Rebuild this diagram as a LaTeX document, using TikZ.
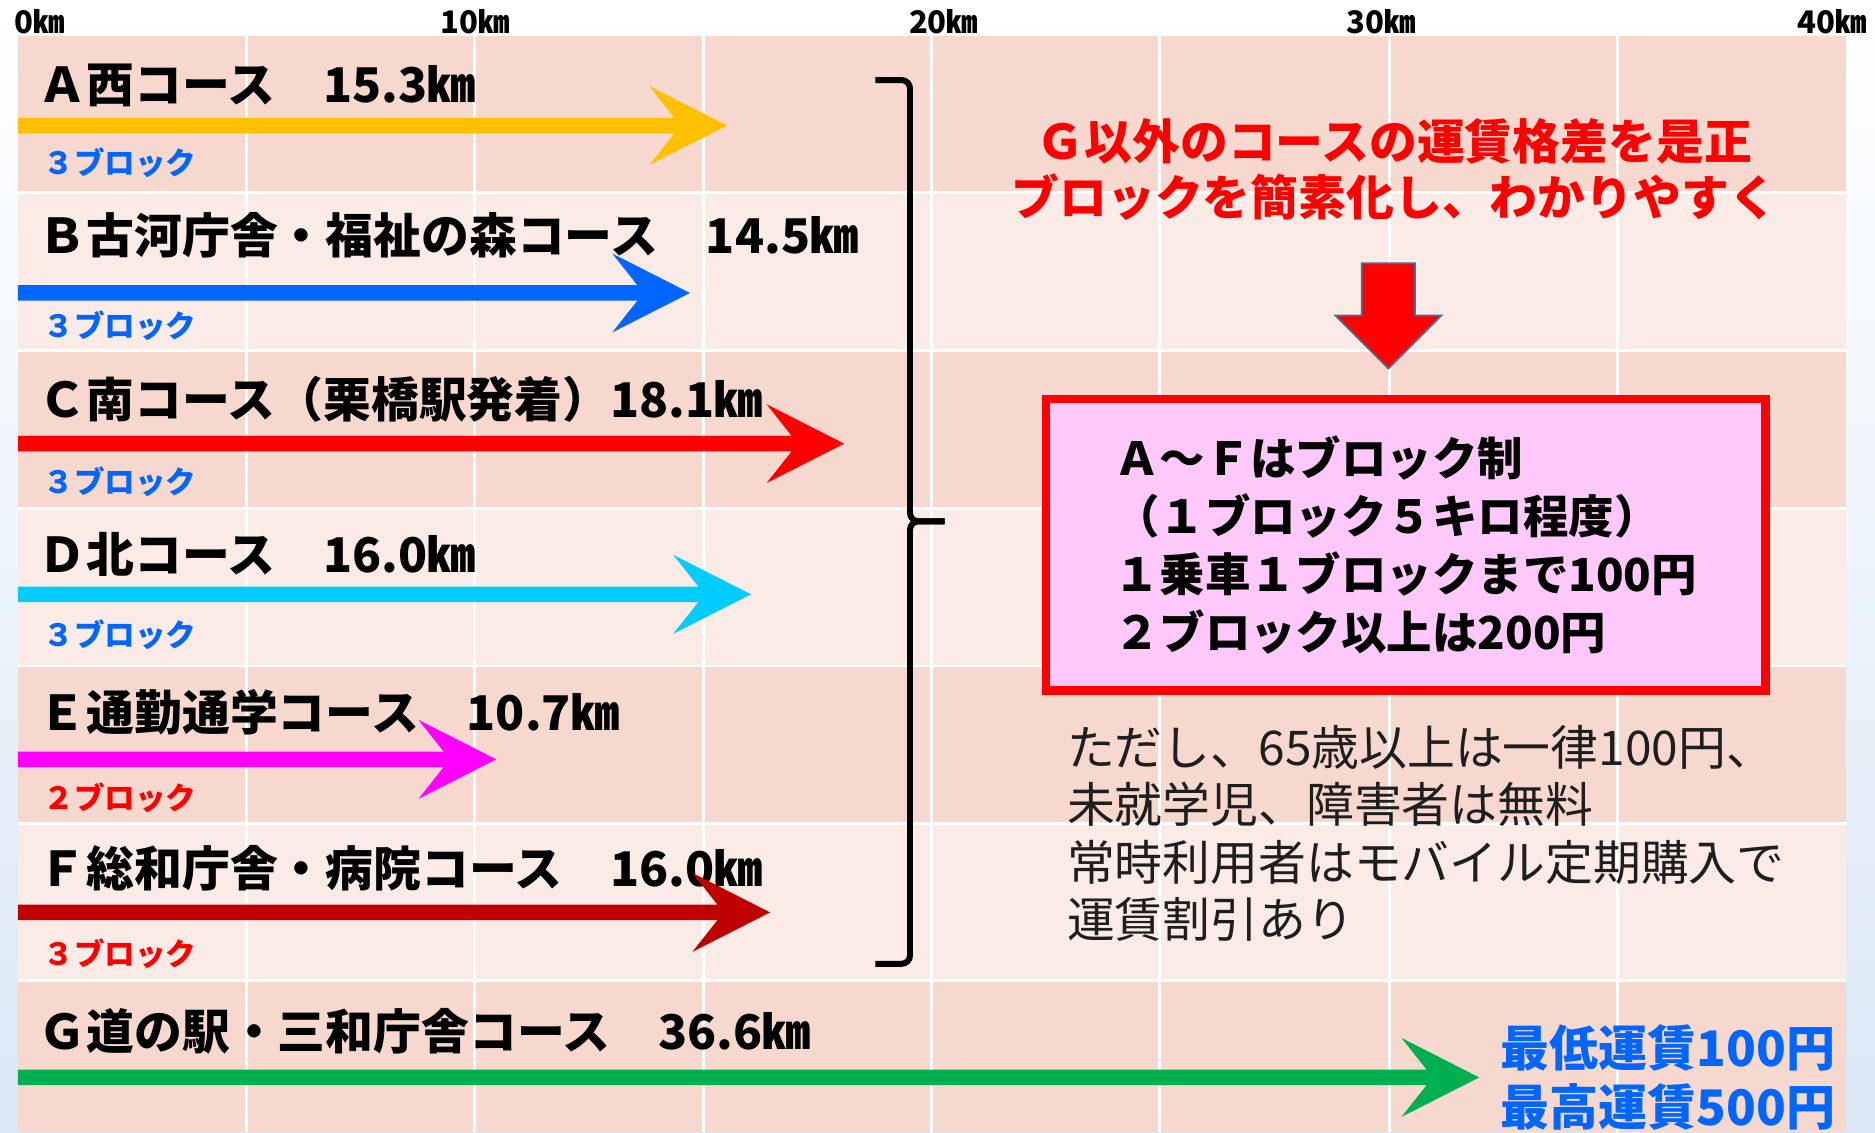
\documentclass[tikz,border=0pt]{standalone}
\usepackage{fontspec}
\newfontfamily\jpfont{Noto Sans CJK JP}
\usetikzlibrary{shapes.arrows}

\definecolor{rowdark}{RGB}{247,216,206}
\definecolor{rowlight}{RGB}{251,235,231}
\definecolor{bgblue}{RGB}{218,232,246}
\definecolor{courseA}{RGB}{255,192,0}
\definecolor{courseB}{RGB}{0,102,255}
\definecolor{courseC}{RGB}{255,0,0}
\definecolor{courseD}{RGB}{0,204,255}
\definecolor{courseE}{RGB}{255,0,255}
\definecolor{courseF}{RGB}{192,0,0}
\definecolor{courseG}{RGB}{0,176,80}
\definecolor{blockblue}{RGB}{0,102,255}
\definecolor{boxpink}{RGB}{255,200,250}
\definecolor{arrowedge}{RGB}{65,113,156}
\definecolor{notegray}{RGB}{30,30,30}

\begin{document}
\begin{tikzpicture}[x=0.5pt, y=-0.5pt]
    \tikzset{
      grid line/.style={draw=white, line width=1.2pt},
      km tick/.style={anchor=base, inner sep=0pt, font=\jpfont\bfseries\fontsize{13}{14}\selectfont},
      course title/.style={anchor=base west, inner sep=0pt, font=\jpfont\bfseries\fontsize{20}{22}\selectfont},
      block label/.style={anchor=base west, inner sep=0pt, font=\jpfont\bfseries\fontsize{12.8}{14}\selectfont},
      brace line/.style={draw=black, line width=2.5pt, rounded corners=3.5pt},
      red notice/.style={anchor=base, align=center, inner sep=0pt, text=red,
        font=\jpfont\bfseries\fontsize{20}{23.5}\selectfont},
      down arrow/.style={single arrow, draw=arrowedge, line width=0.75pt, fill=red,
        minimum height=44pt, inner sep=10.75pt, single arrow head extend=11pt,
        single arrow tip angle=90, shape border rotate=270},
      rule box/.style={draw=red, line width=3.5pt, fill=boxpink, minimum width=301pt,
        minimum height=122pt, align=left, inner sep=0pt,
        font=\jpfont\bfseries\fontsize{19}{24.25}\selectfont},
      note text/.style={anchor=base west, align=left, inner sep=0pt, text=notegray,
        font=\jpfont\fontsize{20}{24}\selectfont},
      fare text/.style={anchor=base east, align=right, inner sep=0pt, text=blockblue,
        font=\jpfont\bfseries\fontsize{20.5}{24.5}\selectfont},
    }
    \useasboundingbox (0,0) rectangle (1568,947);
    \shade[top color=white, bottom color=bgblue] (0,0) rectangle (1568,947);

    % Table rows
    \foreach \ytop/\ybot/\rowcol in {30/161/rowdark, 161/293/rowlight, 293/425/rowdark,
      425/557/rowlight, 557/689/rowdark, 689/820/rowlight, 820/947/rowdark}
      \fill[\rowcol] (15,\ytop) rectangle (1544,\ybot);
    \foreach \x in {206,397,588,779,970,1162,1353}
      \draw[grid line] (\x,30) -- (\x,947);
    \foreach \y in {161,293,425,557,689,820}
      \draw[grid line] (15,\y) -- (1544,\y);

    % Distance scale
    \foreach[count=\i] \x/\km in {33/0, 397/10, 789/20, 1155/30, 1532/40}
      \node (tick\i) [km tick] at (\x,28) {\km{}㎞};

    % Courses A-F
    \foreach[count=\i] \ttl/\yt/\ya/\tip/\col/\yb/\blk/\bcol in {
      Ａ西コース　15.3㎞/86/105/608/courseA/146/３/blockblue,
      Ｂ古河庁舎・福祉の森コース　14.5㎞/212/245/577/courseB/282/３/blockblue,
      Ｃ南コース（栗橋駅発着）18.1㎞/349/371/706/courseC/413/３/blockblue,
      Ｄ北コース　16.0㎞/479/497/628/courseD/541/３/blockblue,
      Ｅ通勤通学コース　10.7㎞/611/635/415/courseE/677/２/red,
      Ｆ総和庁舎・病院コース　16.0㎞/741/763/644/courseF/807/３/red} {
      \node (title\i) [course title] at (32,\yt) {\ttl};
      \node (blocks\i) [block label, text=\bcol] at (36,\yb) {\blk ブロック};
      \coordinate (start\i) at (15,\ya);
      \coordinate (tip\i) at (\tip,\ya);
      \fill[\col] (15,\ya-6.5) -- (\tip-44,\ya-6.5) -- (\tip-65,\ya-33) -- (tip\i)
        -- (\tip-65,\ya+33) -- (\tip-44,\ya+6.5) -- (15,\ya+6.5) -- cycle;
    }

    % Course G
    \node (title7) [course title] at (32,878) {Ｇ道の駅・三和庁舎コース　36.6㎞};
    \coordinate (start7) at (15,901);
    \coordinate (tip7) at (1237,901);
    \fill[courseG] (15,894.5) -- (1193,894.5) -- (1172,868) -- (tip7)
      -- (1172,934) -- (1193,907.5) -- (15,907.5) -- cycle;
    \node (fare) [fare text] at (1535,941) {最低運賃100円\\最高運賃500円};

    % Brace over A-F
    \draw[brace line] (732,67) -- (761,67) -- (761,436) -- (790,436);
    \draw[brace line] (790,436) -- (761,436) -- (761,806) -- (732,806);

    % Fare rule
    \node (notice) [red notice] at (1166,180)
      {Ｇ以外のコースの運賃格差を是正\\ブロックを簡素化し、わかりやすく};
    \node (down) [down arrow] at (1161,253) {};
    \node (rules) [rule box] at (1175.5,455.5)
      {Ａ～Ｆはブロック制\\（１ブロック５キロ程度）\\１乗車１ブロックまで100円\\２ブロック以上は200円};
    \node (note) [note text] at (892,784)
      {ただし、65歳以上は一律100円、\\未就学児、障害者は無料\\常時利用者はモバイル定期購入で\\運賃割引あり};

\end{tikzpicture}
\end{document}
